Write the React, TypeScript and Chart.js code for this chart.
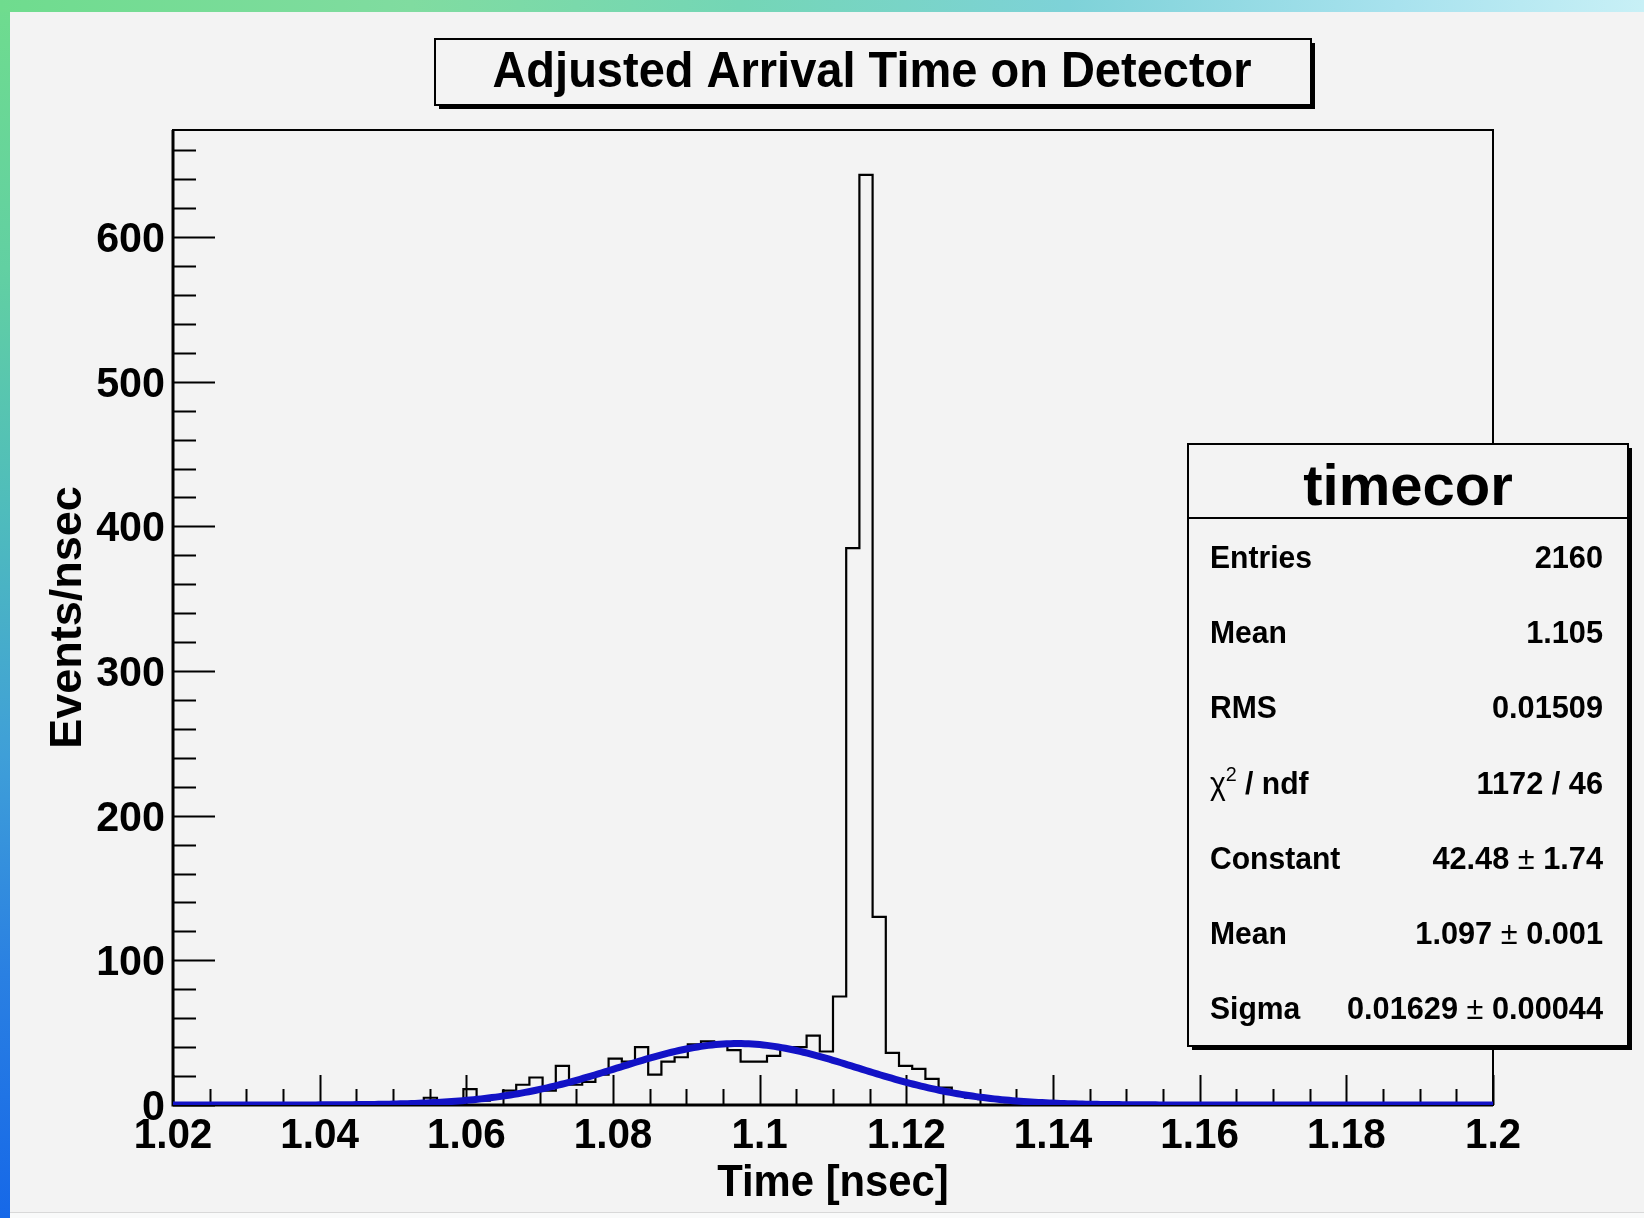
import { useEffect, useRef } from 'react';
import { Chart, registerables } from 'chart.js';

Chart.register(...registerables);

// Histogram "timecor": 100 equal bins between BIN_LOW and BIN_HIGH (nsec)
const BIN_LOW = 1.02;
const BIN_HIGH = 1.2;
const BIN_COUNTS = [
  0, 0, 0, 0, 0, 0, 0, 0, 0, 0,
  0, 0, 0, 0, 0, 0, 0, 1, 2, 5,
  2, 3, 11, 3, 5, 10, 14, 19, 10, 27,
  14, 16, 21, 32, 30, 40, 21, 30, 33, 42,
  44, 43, 38, 30, 30, 34, 39, 40, 48, 37,
  75, 385, 643, 130, 36, 27, 25, 18, 12, 8,
  5, 4, 3, 2, 1, 1, 0, 0, 0, 0,
  0, 0, 0, 0, 0, 0, 0, 0, 0, 0,
  0, 0, 0, 0, 0, 0, 0, 0, 0, 0,
  0, 0, 0, 0, 0, 0, 0, 0, 0, 0,
];

// Gaussian fit result
const FIT_CONSTANT = 42.48;
const FIT_CONSTANT_ERR = 1.74;
const FIT_MEAN = 1.097;
const FIT_MEAN_ERR = 0.001;
const FIT_SIGMA = 0.01629;
const FIT_SIGMA_ERR = 0.00044;
const FIT_CHI2 = 1172;
const FIT_NDF = 46;
const FIT_SAMPLES = 360;

// Histogram statistics
const STAT_ENTRIES = 2160;
const STAT_MEAN = 1.105;
const STAT_RMS = 0.01509;

// Axes
const X_TICK_LABELS = ['1.02', '1.04', '1.06', '1.08', '1.1', '1.12', '1.14', '1.16', '1.18', '1.2'];
const X_MINOR_DIVISIONS = 4;
const Y_TICK_LABELS = ['0', '100', '200', '300', '400', '500', '600'];
const Y_MINOR_DIVISIONS = 5;
const Y_MAX = 674;

const TITLE = 'Adjusted Arrival Time on Detector';
const X_TITLE = 'Time [nsec]';
const Y_TITLE = 'Events/nsec';
const STATS_NAME = 'timecor';

const W = 1644;
const H = 1218;
const PANEL = '#f3f3f3';
const FONT = '"Liberation Sans", Arial, Helvetica, sans-serif';
const FIT_COLOR = '#1212c6';

type Seg = { t: string; weight?: string; size?: number; dy?: number };

function setFont(ctx: CanvasRenderingContext2D, size: number, weight = 'bold') {
  ctx.font = `${weight} ${size}px ${FONT}`;
}

function drawText(
  ctx: CanvasRenderingContext2D,
  str: string,
  x: number,
  y: number,
  size: number,
  align: CanvasTextAlign,
  sx = 1,
  rotate = 0,
) {
  ctx.save();
  ctx.translate(x, y);
  if (rotate) ctx.rotate(rotate);
  ctx.scale(sx, 1);
  setFont(ctx, size);
  ctx.textAlign = align;
  ctx.textBaseline = 'alphabetic';
  ctx.fillStyle = '#000';
  ctx.fillText(str, 0, 0);
  ctx.restore();
}

// Draws a run of text pieces, either starting at x (left) or ending at x (right)
function drawSegments(
  ctx: CanvasRenderingContext2D,
  segs: Seg[],
  x: number,
  y: number,
  size: number,
  align: 'left' | 'right',
  sx = 1,
) {
  ctx.save();
  ctx.fillStyle = '#000';
  ctx.textBaseline = 'alphabetic';
  ctx.textAlign = 'left';
  const widths = segs.map((s) => {
    setFont(ctx, s.size ?? size, s.weight ?? 'bold');
    return ctx.measureText(s.t).width * sx;
  });
  const total = widths.reduce((a, b) => a + b, 0);
  let cx = align === 'left' ? x : x - total;
  segs.forEach((s, i) => {
    setFont(ctx, s.size ?? size, s.weight ?? 'bold');
    ctx.save();
    ctx.translate(cx, y + (s.dy ?? 0));
    ctx.scale(sx, 1);
    ctx.fillText(s.t, 0, 0);
    ctx.restore();
    cx += widths[i];
  });
  ctx.restore();
}

function drawPave(ctx: CanvasRenderingContext2D, x1: number, y1: number, x2: number, y2: number, shadow: number) {
  ctx.save();
  ctx.fillStyle = '#000';
  ctx.fillRect(x1 + shadow, y1 + shadow, x2 - x1, y2 - y1);
  ctx.fillStyle = PANEL;
  ctx.fillRect(x1, y1, x2 - x1, y2 - y1);
  ctx.strokeStyle = '#000';
  ctx.lineWidth = 2;
  ctx.strokeRect(x1, y1, x2 - x1, y2 - y1);
  ctx.restore();
}

const rootFrame = {
  id: 'rootFrame',
  beforeDatasetsDraw(chart: Chart) {
    const { ctx, chartArea: a } = chart;
    const xs = chart.scales.x;
    const ys = chart.scales.y;
    ctx.save();
    ctx.strokeStyle = '#000';
    ctx.lineWidth = 2;
    ctx.strokeRect(a.left, a.top, a.right - a.left, a.bottom - a.top);
    ctx.lineWidth = 3;
    ctx.beginPath();
    ctx.moveTo(a.left, a.top);
    ctx.lineTo(a.left, a.bottom);
    ctx.lineTo(a.right, a.bottom);
    ctx.stroke();

    ctx.lineWidth = 2;
    ctx.beginPath();
    // y axis ticks, pointing into the frame
    const yVals = Y_TICK_LABELS.map(Number);
    const yStep = yVals[1] - yVals[0];
    const yMinor = yStep / Y_MINOR_DIVISIONS;
    for (let v = 0; v <= Y_MAX + 1e-9; v += yMinor) {
      const isMajor = Math.abs(v / yStep - Math.round(v / yStep)) < 1e-6;
      const py = Math.round(ys.getPixelForValue(v)) + 0.5;
      ctx.moveTo(a.left, py);
      ctx.lineTo(a.left + (isMajor ? 42 : 23), py);
    }
    // x axis ticks, pointing up
    const xVals = X_TICK_LABELS.map(Number);
    for (let i = 0; i < xVals.length; i++) {
      const px = Math.round(xs.getPixelForValue(xVals[i])) + 0.5;
      ctx.moveTo(px, a.bottom);
      ctx.lineTo(px, a.bottom - 30);
      if (i < xVals.length - 1) {
        const d = (xVals[i + 1] - xVals[i]) / X_MINOR_DIVISIONS;
        for (let k = 1; k < X_MINOR_DIVISIONS; k++) {
          const mx = Math.round(xs.getPixelForValue(xVals[i] + k * d)) + 0.5;
          ctx.moveTo(mx, a.bottom);
          ctx.lineTo(mx, a.bottom - 16);
        }
      }
    }
    ctx.stroke();
    ctx.restore();
  },
  afterDatasetsDraw(chart: Chart) {
    const { ctx, chartArea: a } = chart;
    const xs = chart.scales.x;
    const ys = chart.scales.y;

    // tick labels
    Y_TICK_LABELS.forEach((lab) => {
      drawText(ctx, lab, a.left - 8, ys.getPixelForValue(Number(lab)) + 15, 43, 'right', 0.96);
    });
    X_TICK_LABELS.forEach((lab) => {
      drawText(ctx, lab, xs.getPixelForValue(Number(lab)), 1148, 43, 'center', 0.94);
    });

    // axis titles
    drawText(ctx, X_TITLE, (a.left + a.right) / 2, 1196, 44, 'center', 0.95);
    drawText(ctx, Y_TITLE, 81, (a.top + a.bottom) / 2, 45, 'center', 1.0, -Math.PI / 2);

    // title pave
    drawPave(ctx, 435, 39, 1311, 105, 4);
    drawText(ctx, TITLE, 872, 87, 50, 'center', 0.94);

    // statistics pave
    const bx1 = 1188;
    const bx2 = 1628;
    const by1 = 444;
    const by2 = 1046;
    drawPave(ctx, bx1, by1, bx2, by2, 4);
    ctx.save();
    ctx.strokeStyle = '#000';
    ctx.lineWidth = 2;
    ctx.beginPath();
    ctx.moveTo(bx1, 518);
    ctx.lineTo(bx2, 518);
    ctx.stroke();
    ctx.restore();
    drawText(ctx, STATS_NAME, (bx1 + bx2) / 2, 505, 58, 'center', 1.0);

    const pm: Seg = { t: ' \u00b1 ', weight: 'normal' };
    const rows: { label: Seg[]; value: Seg[] }[] = [
      { label: [{ t: 'Entries' }], value: [{ t: String(STAT_ENTRIES) }] },
      { label: [{ t: 'Mean' }], value: [{ t: STAT_MEAN.toFixed(3) }] },
      { label: [{ t: 'RMS' }], value: [{ t: STAT_RMS.toFixed(5) }] },
      {
        label: [{ t: '\u03c7', weight: 'normal' }, { t: '2', weight: 'normal', size: 21, dy: -13 }, { t: ' / ndf' }],
        value: [{ t: `${FIT_CHI2} / ${FIT_NDF}` }],
      },
      { label: [{ t: 'Constant' }], value: [{ t: FIT_CONSTANT.toFixed(2) }, pm, { t: FIT_CONSTANT_ERR.toFixed(2) }] },
      { label: [{ t: 'Mean' }], value: [{ t: FIT_MEAN.toFixed(3) }, pm, { t: FIT_MEAN_ERR.toFixed(3) }] },
      { label: [{ t: 'Sigma' }], value: [{ t: FIT_SIGMA.toFixed(5) }, pm, { t: FIT_SIGMA_ERR.toFixed(5) }] },
    ];
    rows.forEach((r, i) => {
      const base = 568 + 75.2 * i;
      drawSegments(ctx, r.label, 1210, base, 32, 'left', 0.94);
      drawSegments(ctx, r.value, 1603, base, 32, 'right', 0.96);
    });
  },
};

const BIN_WIDTH = (BIN_HIGH - BIN_LOW) / BIN_COUNTS.length;

export default function App() {
  const canvasRef = useRef<HTMLCanvasElement | null>(null);

  useEffect(() => {
    document.body.style.margin = '0';
    document.body.style.overflow = 'hidden';
    const canvas = canvasRef.current;
    if (!canvas) return;

    // step outline: each point starts a bin and holds its count until the next edge
    const histPoints = BIN_COUNTS.map((c, i) => ({ x: BIN_LOW + i * BIN_WIDTH, y: c }));
    histPoints.push({ x: BIN_HIGH, y: BIN_COUNTS[BIN_COUNTS.length - 1] });

    const fitPoints = Array.from({ length: FIT_SAMPLES + 1 }, (_, i) => {
      const x = BIN_LOW + ((BIN_HIGH - BIN_LOW) * i) / FIT_SAMPLES;
      const z = (x - FIT_MEAN) / FIT_SIGMA;
      return { x, y: FIT_CONSTANT * Math.exp(-0.5 * z * z) };
    });

    const chart = new Chart(canvas, {
      type: 'line',
      data: {
        datasets: [
          {
            label: 'gaus',
            data: fitPoints,
            borderColor: FIT_COLOR,
            borderWidth: 7,
            pointRadius: 0,
            tension: 0,
            fill: false,
            order: 0,
          },
          {
            label: STATS_NAME,
            data: histPoints,
            stepped: 'before',
            borderColor: '#000',
            borderWidth: 2.2,
            pointRadius: 0,
            fill: false,
            order: 1,
          },
        ],
      },
      options: {
        responsive: false,
        animation: false,
        devicePixelRatio: 1,
        events: [],
        layout: { padding: { left: 173, top: 130, right: 151, bottom: 113 } },
        plugins: {
          legend: { display: false },
          tooltip: { enabled: false },
          title: { display: false },
        },
        scales: {
          x: { type: 'linear', display: false, min: BIN_LOW, max: BIN_HIGH },
          y: { type: 'linear', display: false, min: 0, max: Y_MAX },
        },
      },
      plugins: [rootFrame],
    });
    return () => chart.destroy();
  }, []);

  return (
    <div
      style={{
        position: 'relative',
        width: W,
        height: H,
        overflow: 'hidden',
        background:
          'linear-gradient(to bottom, #6fdc8e 0%, #62d0a2 22%, #4fbcbc 42%, #3f9fd8 62%, #2a80e2 80%, #1668e8 100%)',
      }}
    >
      <div
        style={{
          position: 'absolute',
          left: 0,
          top: 0,
          width: W,
          height: 12,
          background:
            'linear-gradient(to right, #6fdc8e 0%, #80dca0 25%, #74d6b6 45%, #7ed2d8 65%, #a8e2ee 85%, #c8f0f6 100%)',
        }}
      />
      <div style={{ position: 'absolute', left: 10, top: 12, width: W - 10, height: 1200, background: PANEL }} />
      <div
        style={{
          position: 'absolute',
          left: 10,
          top: 1212,
          width: W - 10,
          height: 6,
          background: '#f9fafa',
          borderTop: '1px solid #d8d8d8',
        }}
      />
      <canvas
        ref={canvasRef}
        width={W}
        height={H}
        style={{ position: 'absolute', left: 0, top: 0, width: W, height: H }}
      />
    </div>
  );
}
